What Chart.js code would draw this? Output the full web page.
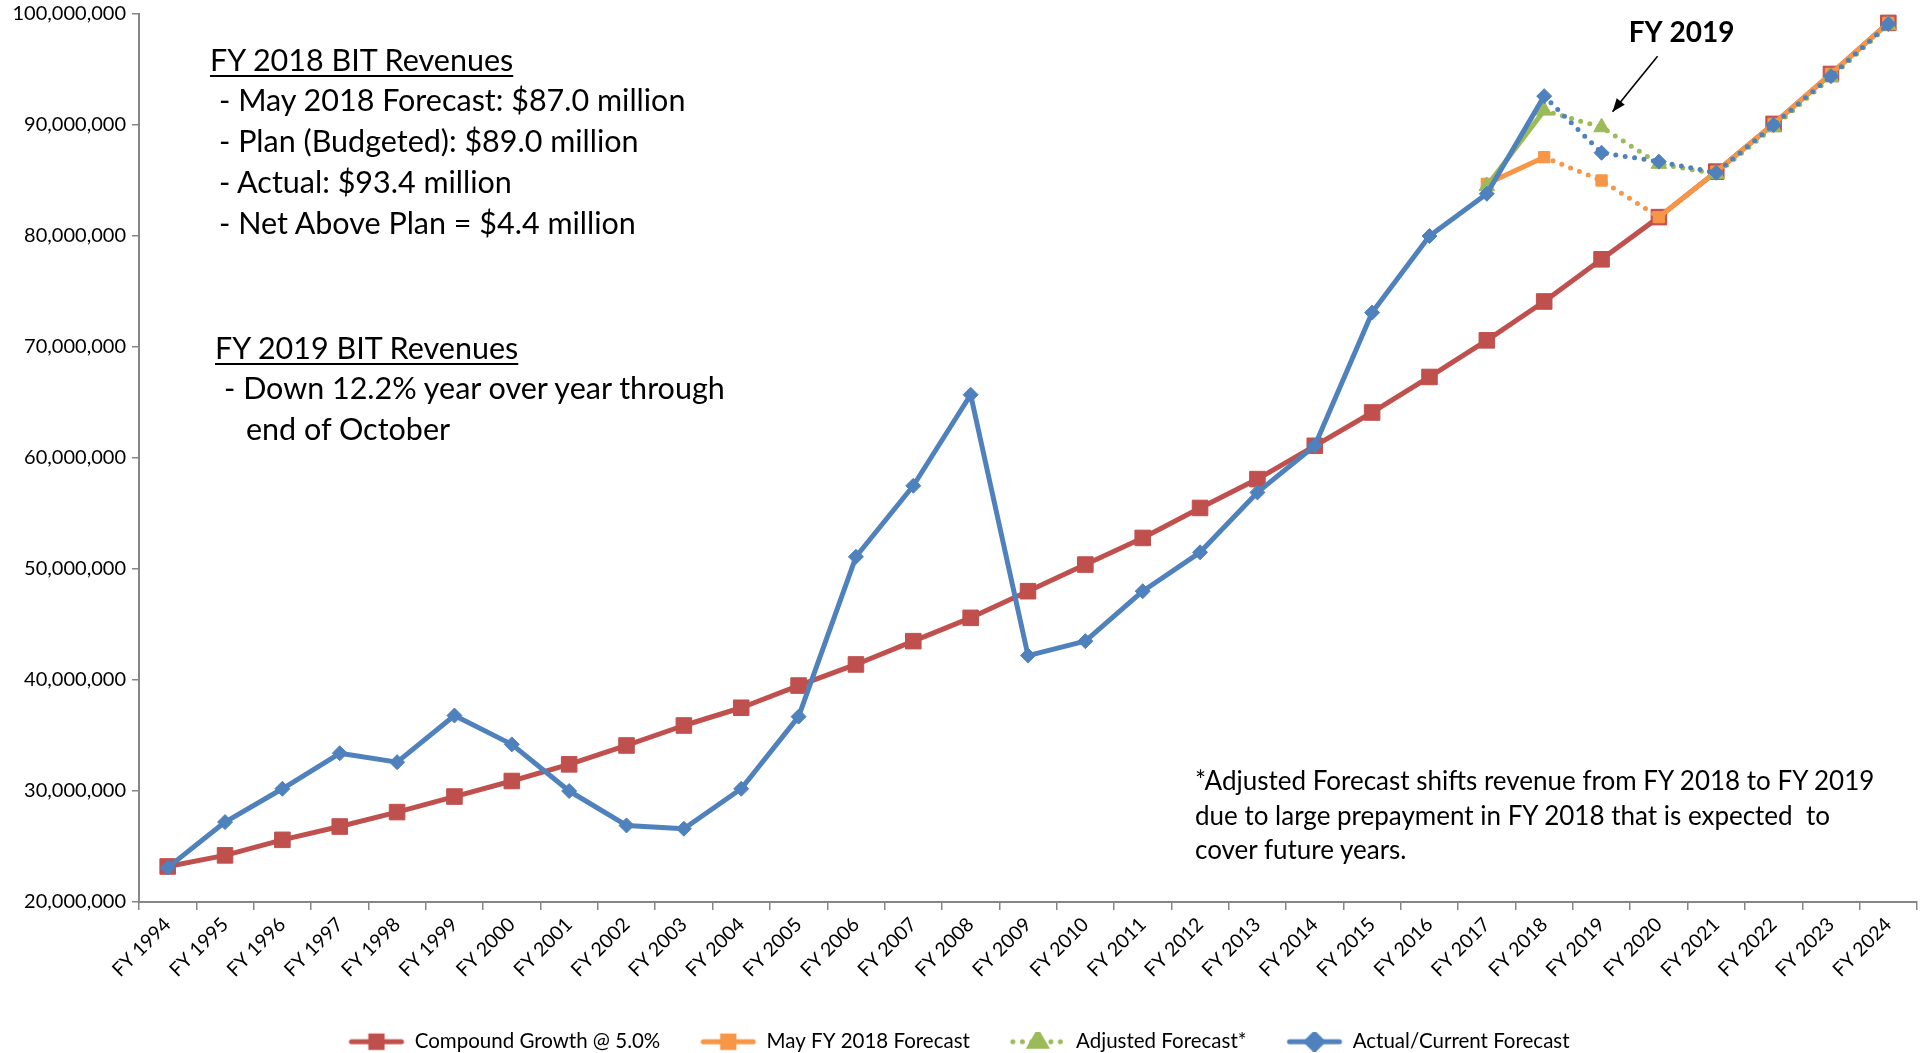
<!DOCTYPE html>
<html>
<head>
<meta charset="utf-8">
<script src="https://cdn.jsdelivr.net/npm/chart.js@4.4.1/dist/chart.umd.min.js"></script>
<style>
  html, body { margin: 0; padding: 0; background: #fff; }
  #wrap { position: relative; width: 1929px; height: 1053px; }
  #chart { position: absolute; left: 0; top: 0; }
  .note { position: absolute; font-family: Lato, "Open Sans", sans-serif; color: #000; white-space: pre; line-height: 1; }
  .big { font-size: 30.5px; }
  .small { font-size: 26px; }
  .u { text-decoration: underline; text-underline-offset: 4px; text-decoration-thickness: 2px; }
</style>
</head>
<body>
<div id="wrap">
  <canvas id="chart" width="1929" height="1053"></canvas>
  <div class="note big u" style="left:210px; top:44px;">FY 2018 BIT Revenues</div>
  <div class="note big" style="left:219px; top:84px;">- May 2018 Forecast: $87.0 million</div>
  <div class="note big" style="left:219px; top:125px;">- Plan (Budgeted): $89.0 million</div>
  <div class="note big" style="left:219px; top:166px;">- Actual: $93.4 million</div>
  <div class="note big" style="left:219px; top:207px;">- Net Above Plan = $4.4 million</div>
  <div class="note big u" style="left:215px; top:332px;">FY 2019 BIT Revenues</div>
  <div class="note big" style="left:224px; top:372px;">- Down 12.2% year over year through</div>
  <div class="note big" style="left:246px; top:413px;">end of October</div>
  <div class="note small" style="left:1195px; top:767px;">*Adjusted Forecast shifts revenue from FY 2018 to FY 2019</div>
  <div class="note small" style="left:1195px; top:802px;">due to large prepayment in FY 2018 that is expected  to</div>
  <div class="note small" style="left:1195px; top:836px;">cover future years.</div>
</div>
<script>
// values in millions of dollars
const years = ["FY 1994", "FY 1995", "FY 1996", "FY 1997", "FY 1998", "FY 1999", "FY 2000", "FY 2001",
  "FY 2002", "FY 2003", "FY 2004", "FY 2005", "FY 2006", "FY 2007", "FY 2008", "FY 2009", "FY 2010",
  "FY 2011", "FY 2012", "FY 2013", "FY 2014", "FY 2015", "FY 2016", "FY 2017", "FY 2018", "FY 2019",
  "FY 2020", "FY 2021", "FY 2022", "FY 2023", "FY 2024"];

const compoundGrowth = [23.2, 24.2, 25.6, 26.8, 28.1, 29.5, 30.9, 32.4, 34.1, 35.9, 37.5, 39.5, 41.4,
  43.5, 45.6, 48.0, 50.4, 52.8, 55.5, 58.1, 61.1, 64.1, 67.3, 70.6, 74.1, 77.9, 81.7, 85.8, 90.1, 94.6, 99.2];

const mayForecast = [null, null, null, null, null, null, null, null, null, null, null, null, null,
  null, null, null, null, null, null, null, null, null, null, 84.7, 87.1, 85.0, 81.7, 85.8, 90.1, 94.6, 99.2];

const adjustedForecast = [null, null, null, null, null, null, null, null, null, null, null, null, null,
  null, null, null, null, null, null, null, null, null, null, 84.5, 91.3, 89.8, 86.5, 85.6, 89.8, 94.3, 99.0];

const actualForecast = [23.1, 27.2, 30.2, 33.4, 32.6, 36.8, 34.2, 30.0, 26.9, 26.6, 30.2, 36.7, 51.1,
  57.5, 65.7, 42.2, 43.5, 48.0, 51.5, 56.9, 61.1, 73.1, 80.0, 83.8, 92.6, 87.5, 86.7, 85.7, 90.0, 94.4, 99.1];

const seriesNames = ["Compound Growth @ 5.0%", "May FY 2018 Forecast", "Adjusted Forecast*", "Actual/Current Forecast"];
const seriesColors = ["#C0504D", "#F79646", "#9BBB59", "#4F81BD"];

const yMin = 20000000, yMax = 100000000, yStep = 10000000;

const font = "Lato, 'Open Sans', sans-serif";
const dots = [0, 9.5];
const toDollars = (arr) => arr.map((v) => (v == null ? null : v * 1000000));

// legend swatch: a short line with the marker in the middle
function swatch(color, style, dashed) {
  const c = document.createElement("canvas");
  c.width = 58;
  c.height = 20;
  const g = c.getContext("2d");
  g.strokeStyle = color;
  g.fillStyle = color;
  g.lineWidth = 5;
  g.lineCap = "round";
  if (dashed) g.setLineDash(dots);
  g.beginPath();
  g.moveTo(4, 10);
  g.lineTo(54, 10);
  g.stroke();
  g.setLineDash([]);
  Chart.helpers.drawPoint(g, { pointStyle: style, radius: style === "triangle" ? 9 : 8, borderWidth: 1 }, 29, 10);
  g.fill();
  return c;
}

const swatches = [
  swatch(seriesColors[0], "rect", false),
  swatch(seriesColors[1], "rect", false),
  swatch(seriesColors[2], "triangle", true),
  swatch(seriesColors[3], "rectRot", false),
];

// annotation: "FY 2019" with an arrow pointing at the FY 2019 points
const arrowPlugin = {
  id: "arrow",
  afterDatasetsDraw(chart) {
    const { ctx, scales } = chart;
    const x0 = scales.x.getPixelForValue(25);
    const tailX = x0 + 56, tailY = scales.y.getPixelForValue(96200000);
    const headX = x0 + 11, headY = scales.y.getPixelForValue(91200000);
    ctx.save();
    ctx.strokeStyle = "#000";
    ctx.fillStyle = "#000";
    ctx.lineWidth = 1.6;
    ctx.beginPath();
    ctx.moveTo(tailX, tailY);
    ctx.lineTo(headX, headY);
    ctx.stroke();
    const ang = Math.atan2(headY - tailY, headX - tailX);
    ctx.beginPath();
    ctx.moveTo(headX, headY);
    ctx.lineTo(headX - 14 * Math.cos(ang - 0.38), headY - 14 * Math.sin(ang - 0.38));
    ctx.lineTo(headX - 14 * Math.cos(ang + 0.38), headY - 14 * Math.sin(ang + 0.38));
    ctx.closePath();
    ctx.fill();
    ctx.font = "bold 28px " + font;
    ctx.textAlign = "center";
    ctx.textBaseline = "middle";
    ctx.fillText("FY 2019", x0 + 80, scales.y.getPixelForValue(98250000));
    ctx.restore();
  },
};

const chart = document.getElementById("chart");
new Chart(chart, {
  type: "line",
  data: {
    labels: years,
    datasets: [
      {
        label: seriesNames[0],
        data: toDollars(compoundGrowth),
        borderColor: seriesColors[0],
        backgroundColor: seriesColors[0],
        borderWidth: 5,
        pointStyle: "rect",
        pointRadius: 11,
        pointBorderWidth: 1,
        order: 3,
      },
      {
        label: seriesNames[1],
        data: toDollars(mayForecast),
        borderColor: seriesColors[1],
        backgroundColor: seriesColors[1],
        borderWidth: 5,
        pointStyle: "rect",
        pointRadius: 8,
        pointBorderWidth: 1,
        order: 2,
        segment: {
          borderDash: (c) => (c.p0DataIndex === 24 || c.p0DataIndex === 25 ? dots : undefined),
        },
      },
      {
        label: seriesNames[2],
        data: toDollars(adjustedForecast),
        borderColor: seriesColors[2],
        backgroundColor: seriesColors[2],
        borderWidth: 5,
        pointStyle: "triangle",
        pointRadius: 9,
        pointBorderWidth: 1,
        order: 1,
        segment: {
          borderDash: (c) => (c.p0DataIndex >= 24 ? dots : undefined),
        },
      },
      {
        label: seriesNames[3],
        data: toDollars(actualForecast),
        borderColor: seriesColors[3],
        backgroundColor: seriesColors[3],
        borderWidth: 5,
        pointStyle: "rectRot",
        pointRadius: 7.5,
        pointBorderWidth: 1,
        order: 0,
        segment: {
          borderDash: (c) => (c.p0DataIndex >= 24 ? dots : undefined),
        },
      },
    ],
  },
  options: {
    responsive: false,
    animation: false,
    devicePixelRatio: 1,
    elements: { line: { tension: 0, borderCapStyle: "round", borderJoinStyle: "round" } },
    layout: { padding: { top: 14, right: 11, left: 0, bottom: -9 } },
    plugins: {
      tooltip: { enabled: false },
      legend: {
        position: "bottom",
        labels: {
          usePointStyle: true,
          pointStyleWidth: 56,
          padding: 40,
          color: "#000",
          font: { family: font, size: 20.5 },
          sort: (a, b) => a.datasetIndex - b.datasetIndex,
          generateLabels: (ch) =>
            ch.data.datasets.map((ds, i) => ({
              text: ds.label,
              datasetIndex: i,
              pointStyle: swatches[i],
              fillStyle: seriesColors[i],
              strokeStyle: seriesColors[i],
              lineWidth: 0,
              hidden: false,
              fontColor: "#000",
            })),
        },
      },
    },
    scales: {
      x: {
        offset: true,
        grid: { display: true, drawOnChartArea: false, offset: true, tickLength: 8, color: "#868686", lineWidth: 1.5 },
        border: { color: "#868686", width: 2 },
        ticks: {
          color: "#000",
          font: { family: font, size: 19.5 },
          minRotation: 45,
          maxRotation: 45,
          autoSkip: false,
          padding: 3,
        },
        afterFit: (s) => { s.height = 89.5; },
      },
      y: {
        min: yMin,
        max: yMax,
        grid: { display: true, drawOnChartArea: false, tickLength: 7, color: "#868686", lineWidth: 1.5 },
        border: { color: "#868686", width: 2 },
        ticks: {
          stepSize: yStep,
          color: "#000",
          font: { family: font, size: 20 },
          padding: 6,
          callback: (v) => Number(v).toLocaleString("en-US"),
        },
        afterFit: (s) => { s.width = 139; s.paddingTop = 0; },
      },
    },
  },
  plugins: [arrowPlugin],
});
</script>
</body>
</html>
